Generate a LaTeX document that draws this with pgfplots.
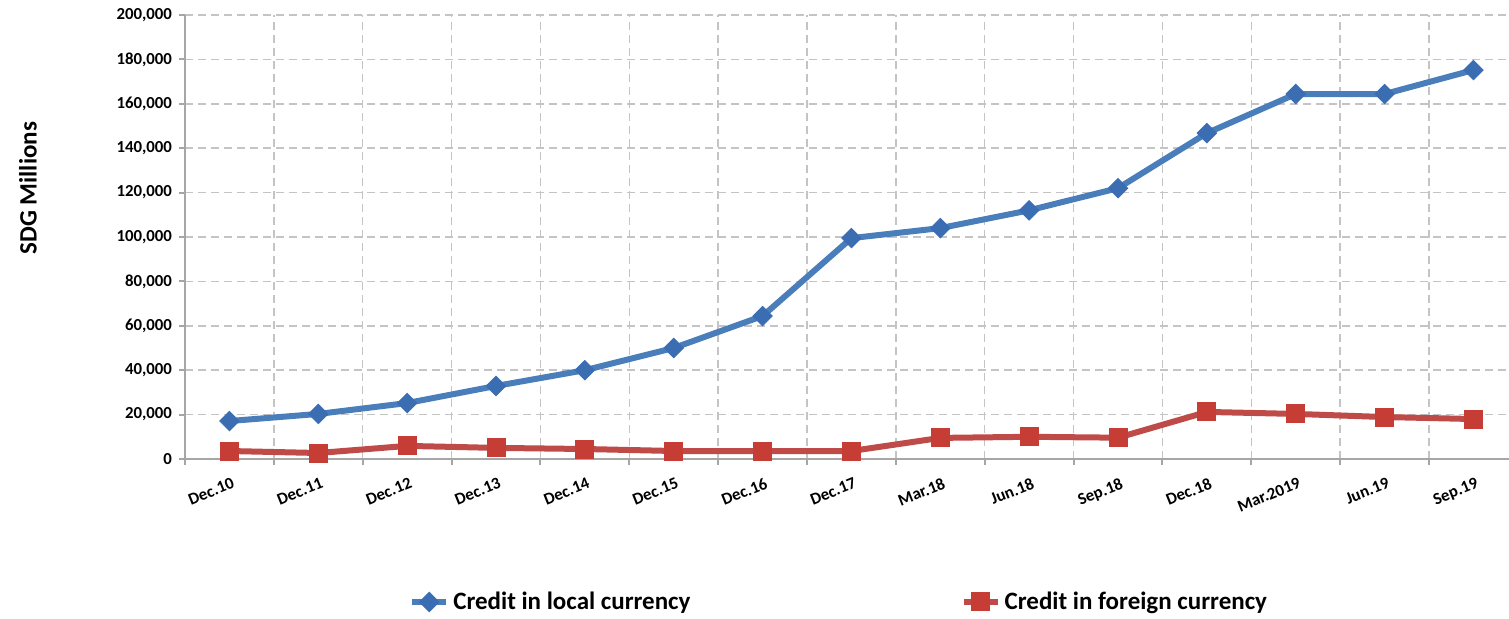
\documentclass[border=0pt]{standalone}
\usepackage{fontspec}
\setmainfont{Carlito}
\usepackage{pgfplots}
\usepackage{pgfplotstable}
\pgfplotsset{compat=1.18}

\definecolor{localblue}{HTML}{4A7EBB}
\definecolor{localmark}{HTML}{3B6DB3}
\definecolor{foreignred}{HTML}{BE4B48}
\definecolor{foreignmark}{HTML}{C63D36}
\definecolor{gridgray}{HTML}{C4C4C4}
\definecolor{axisgray}{HTML}{A6A6A6}

% SDG millions
\pgfplotstableread{
idx local  foreign
0   17100  3600
1   20300  2700
2   25200  5900
3   32900  5000
4   40000  4500
5   50000  3600
6   64400  3600
7   99500  3600
8   104000 9500
9   112000 10000
10  122000 9600
11  146800 21200
12  164400 20300
13  164400 18900
14  175200 18000
}\credit

\begin{document}
\begin{tikzpicture}
\begin{axis}[
  scale only axis,
  width=662pt, height=222pt,
  xmin=-0.5, xmax=14.4,
  ymin=0, ymax=200000,
  axis x line*=bottom, axis y line*=left,
  axis line style={axisgray, line width=1pt, -},
  xtick={0,...,14},
  xticklabels={Dec.10,Dec.11,Dec.12,Dec.13,Dec.14,Dec.15,Dec.16,Dec.17,Mar.18,Jun.18,Sep.18,Dec.18,Mar.2019,Jun.19,Sep.19},
  minor xtick={-0.5,0.5,...,13.5},
  ytick={0,20000,...,200000},
  scaled y ticks=false,
  /pgf/number format/fixed,
  /pgf/number format/1000 sep={,},
  /pgf/number format/assume math mode=true,
  tick align=outside,
  major tick length=3pt, minor tick length=3pt,
  major x tick style={draw=none},
  minor x tick style={axisgray, line width=1pt},
  ytick style={axisgray, line width=1pt},
  ymajorgrids=true, xminorgrids=true,
  grid style={gridgray, line width=0.75pt, dash pattern=on 4pt off 2.5pt},
  tick label style={font=\bfseries\fontsize{8.4}{10}\selectfont},
  xticklabel style={rotate=22, anchor=north east, xshift=2pt, yshift=-2.5pt},
  ylabel={SDG Millions},
  every axis y label/.style={at={(axis description cs:-0.1186,0.61)}, rotate=90, anchor=center, font=\bfseries\fontsize{12.5}{15}\selectfont},
  legend columns=2,
  legend style={at={(axis description cs:0.169,-0.322)}, anchor=west, draw=none, inner sep=0pt,
    font=\bfseries\fontsize{12.5}{15}\selectfont,
    /tikz/every even column/.append style={column sep=133pt}},
]
\addplot[localblue, line width=3pt, mark=square*, mark size=3.4pt,
  mark options={solid, rotate=45, fill=localmark, draw=localmark, line width=0.5pt}]
  table[x=idx, y=local] {\credit};
\addlegendentry{Credit in local currency}
\addplot[foreignred, line width=3pt, mark=square*, mark size=4.5pt,
  mark options={solid, fill=foreignmark, draw=foreignmark, line width=0.5pt}]
  table[x=idx, y=foreign] {\credit};
\addlegendentry{Credit in foreign currency}
\end{axis}
\pgfresetboundingbox
\path (-92.5pt,-80pt) rectangle (662pt,229.5pt);
\end{tikzpicture}
\end{document}
